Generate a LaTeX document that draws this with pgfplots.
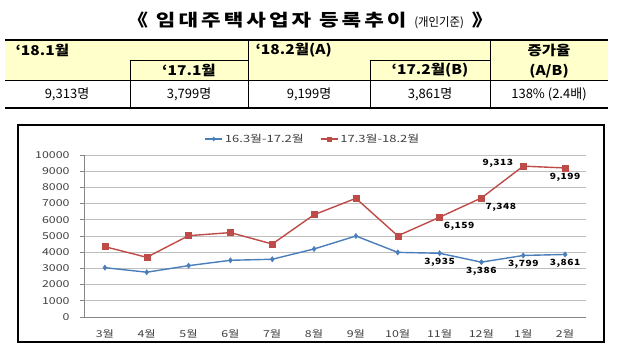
\documentclass[border=0pt]{standalone}
\usepackage{fontspec}
\setmainfont{Noto Sans CJK KR}
\newfontfamily\chartfont[FakeStretch=1.3]{Noto Sans CJK KR}
\newfontfamily\titlefont[FakeStretch=1.25,LetterSpace=18]{Noto Sans CJK KR}
\newfontfamily\subtitlefont[FakeStretch=0.95]{Noto Sans CJK KR}
\newfontfamily\hdrfont[FakeStretch=1.15]{Noto Sans CJK KR}
\newfontfamily\lblfont[FakeStretch=1.2,LetterSpace=6]{Noto Sans CJK KR}
\usepackage{pgfplots}
\pgfplotsset{compat=1.18}
\definecolor{s1}{HTML}{4A7EBB}
\definecolor{s2}{HTML}{BE4B48}
\definecolor{hdr}{HTML}{FFFFCC}
\definecolor{axgray}{HTML}{868686}
\definecolor{gridgray}{HTML}{BEBEBE}
\definecolor{txtgray}{HTML}{404040}
\begin{document}
\begin{tikzpicture}
\useasboundingbox (0,0) rectangle (621pt,-353pt);
% title
\node at (310pt,-20pt) {\titlefont\fontsize{17}{18}\selectfont\bfseries 《 임대주택사업자 등록추이 {\subtitlefont\fontsize{12}{13}\selectfont\mdseries (개인기준)} 》};
% table
\fill[hdr] (5pt,-40pt) rectangle (608pt,-80pt);
\draw[line width=0.7pt] (5pt,-80pt) -- (608pt,-80pt);
\draw[line width=0.7pt] (130pt,-60pt) -- (248pt,-60pt);
\draw[line width=0.7pt] (370pt,-60pt) -- (490pt,-60pt);
\draw[line width=0.7pt] (130pt,-60pt) -- (130pt,-108pt);
\draw[line width=0.7pt] (248pt,-40pt) -- (248pt,-108pt);
\draw[line width=0.7pt] (370pt,-60pt) -- (370pt,-108pt);
\draw[line width=0.7pt] (490pt,-40pt) -- (490pt,-108pt);
\draw[line width=2pt] (5pt,-40pt) -- (608pt,-40pt);
\draw[line width=2pt] (5pt,-108pt) -- (608pt,-108pt);
\begin{scope}[every node/.style={font=\hdrfont\fontsize{13.5}{14}\selectfont\bfseries}]
\node[anchor=west] at (12pt,-50pt) {‘18.1월};
\node at (189pt,-70pt) {‘17.1월};
\node[anchor=west] at (252pt,-50pt) {‘18.2월(A)};
\node at (430pt,-70pt) {‘17.2월(B)};
\node at (549pt,-50pt) {증가율};
\node at (549pt,-71pt) {(A/B)};
\end{scope}
\begin{scope}[every node/.style={font=\fontsize{13}{14}\selectfont}]
\node at (67pt,-94pt) {9,313명};
\node at (189pt,-94pt) {3,799명};
\node at (309pt,-94pt) {9,199명};
\node at (430pt,-94pt) {3,861명};
\node at (549pt,-94pt) {138\% (2.4배)};
\end{scope}
% chart frame
\draw[line width=1.2pt] (18pt,-125pt) rectangle (604pt,-342pt);
\begin{axis}[
  at={(84pt,-317pt)}, anchor=south west,
  scale only axis, width=502pt, height=162pt,
  xmin=-0.5, xmax=11.5, ymin=0, ymax=10000,
  axis x line*=bottom, axis y line*=left,
  axis line style={draw=axgray, line width=0.8pt},
  every outer x axis line/.append style={-}, every outer y axis line/.append style={-},
  xtick={0,...,11},
  xticklabels={3월,4월,5월,6월,7월,8월,9월,10월,11월,12월,1월,2월},
  major x tick style={draw=none},
  extra x ticks={-0.5,0.5,...,11.5}, extra x tick labels={},
  extra x tick style={major tick length=4pt, tick align=outside, tick style={draw=axgray, line width=0.8pt}, grid=none},
  ytick={0,1000,...,10000},
  ymajorgrids, grid style={draw=gridgray, line width=0.8pt},
  y tick style={draw=axgray, line width=0.8pt}, tick align=outside, major tick length=4pt,
  scaled y ticks=false,
  /pgf/number format/assume math mode=true,
  /pgf/number format/1000 sep={},
  tick label style={font=\chartfont\fontsize{9.5}{10}\selectfont, text=txtgray},
  yticklabel style={xshift=-7pt},
  xticklabel style={yshift=-5pt},
  legend style={at={(0.456,1.099)}, anchor=center, draw=none, fill=none, legend columns=2, font=\chartfont\fontsize{10}{11}\selectfont, text=txtgray, /tikz/every even column/.append style={column sep=14pt}},
  legend image code/.code={\draw[#1, mark size=2pt, mark repeat=2, mark phase=2] plot coordinates {(0cm,0cm) (0.3cm,0cm) (0.6cm,0cm)};},
]
\addplot[s1, line width=1.4pt, mark=diamond*, mark size=2.6pt, mark options={fill=s1, draw=s1, line width=0.5pt}] coordinates {
(0,3045) (1,2765) (2,3170) (3,3500) (4,3565) (5,4200) (6,5000) (7,3990) (8,3935) (9,3386) (10,3799) (11,3861)};
\addlegendentry{16.3월-17.2월}
\addplot[s2, line width=1.4pt, mark=square*, mark size=3pt, mark options={fill=s2, draw=s2, line width=0.5pt}] coordinates {
(0,4340) (1,3685) (2,5020) (3,5210) (4,4505) (5,6315) (6,7325) (7,5010) (8,6159) (9,7348) (10,9313) (11,9199)};
\addlegendentry{17.3월-18.2월}
% labels
\addplot[draw=none, mark=none, forget plot, point meta=explicit symbolic, nodes near coords, nodes near coords align={anchor=north},
  every node near coord/.append style={font=\lblfont\fontsize{8.5}{9}\selectfont\bfseries, inner sep=1pt, yshift=-4pt}] coordinates {
(8,3935) [3,935] (9,3386) [3,386] (10,3799) [3,799] (11,3861) [3,861] (11,9199) [9,199]};
\addplot[draw=none, mark=none, forget plot, point meta=explicit symbolic, nodes near coords, nodes near coords align={anchor=north west},
  every node near coord/.append style={font=\lblfont\fontsize{8.5}{9}\selectfont\bfseries, inner sep=1pt, yshift=-4pt, xshift=3pt}] coordinates {
(8,6159) [6,159] (9,7348) [7,348]};
\addplot[draw=none, mark=none, forget plot, point meta=explicit symbolic, nodes near coords, nodes near coords align={anchor=east},
  every node near coord/.append style={font=\lblfont\fontsize{8.5}{9}\selectfont\bfseries, inner sep=1pt, xshift=-9pt, yshift=3pt}] coordinates {
(10,9313) [9,313]};
\end{axis}
\end{tikzpicture}
\end{document}
